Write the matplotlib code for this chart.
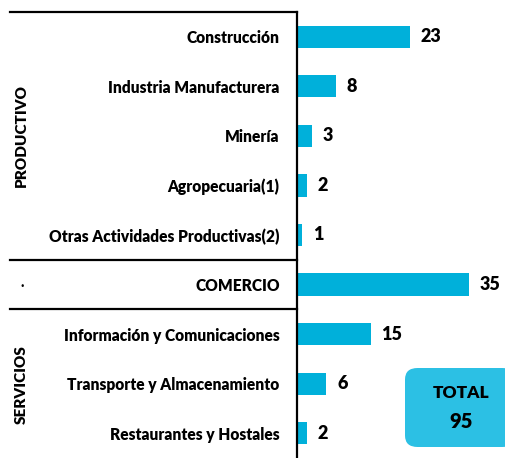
import matplotlib.pyplot as plt
from matplotlib.transforms import blended_transform_factory
from matplotlib.patches import FancyBboxPatch

categories = ["Construcción", "Industria Manufacturera", "Minería", "Agropecuaria(1)",
              "Otras Actividades Productivas(2)", "COMERCIO",
              "Información y Comunicaciones", "Transporte y Almacenamiento",
              "Restaurantes y Hostales"]
values = [23, 8, 3, 2, 1, 35, 15, 6, 2]
total = 95

plt.rcParams['font.family'] = ['Lato', 'DejaVu Sans']
plt.rcParams['font.weight'] = 'bold'

fig = plt.figure(figsize=(5.06, 4.58), dpi=100)
W, H = 506, 458
ax = fig.add_axes([297 / W, 0, (W - 297) / W, (H - 12) / H])

pos = list(range(len(values)))
ax.barh(pos, values, height=0.45, color='#00b0da')
ax.set_ylim(8.5, -0.5)
ax.set_xlim(0, 209 / 4.9)

# value labels next to bars
for p, v in zip(pos, values):
    ax.text(v + 2.2, p, str(v), va='center', ha='left', fontsize=13, fontweight='heavy')

ax.set_yticks(pos)
ax.set_yticklabels(categories, fontsize=11.2, fontweight='heavy')
ax.tick_params(axis='y', length=0, pad=12.5)
ax.set_xticks([])
for s in ['top', 'right', 'bottom']:
    ax.spines[s].set_visible(False)
ax.spines['left'].set_linewidth(1.6)

# group separators reaching into the label area
tr = blended_transform_factory(fig.transFigure, ax.transData)
for yy in [-0.5, 4.5, 5.5]:
    ax.plot([10 / W, 297 / W], [yy, yy], color='black', lw=1.6, transform=tr, clip_on=False)

fig.text(21 / W, 1 - 135 / H, "PRODUCTIVO", rotation=90, ha='center', va='center',
         fontsize=11, fontweight='heavy')
fig.text(21 / W, 1 - 385 / H, "SERVICIOS", rotation=90, ha='center', va='center',
         fontsize=11, fontweight='heavy')
fig.text(22 / W, 1 - 286 / H, "·", ha='center', va='center', fontsize=9)

# total box
box = FancyBboxPatch((405 / W, 1 - 447 / H), 110 / W, 79 / H,
                     boxstyle="round,pad=0,rounding_size=0.025",
                     transform=fig.transFigure, facecolor='#2cc0e4', edgecolor='none',
                     clip_on=False)
fig.patches.append(box)
fig.text(461 / W, 1 - 393 / H, "TOTAL", ha='center', va='center', fontsize=12.5, fontweight='heavy')
fig.text(461 / W, 1 - 422 / H, str(total), ha='center', va='center', fontsize=14.5, fontweight='heavy')

fig.savefig("out.png", dpi=100)
